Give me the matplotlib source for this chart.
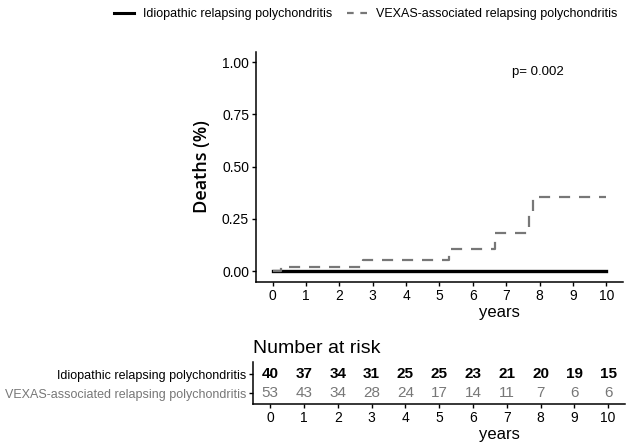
import matplotlib
matplotlib.use('Agg')
import matplotlib.pyplot as plt
from matplotlib.lines import Line2D

plt.rcParams['font.family'] = ['Liberation Sans', 'DejaVu Sans']

# 資料
GROUPS = ["Idiopathic relapsing polychondritis", "VEXAS-associated relapsing polychondritis"]
COLORS = ['black', '#777777']
YEARS = list(range(0, 11))

idio_time = [0, 10]
idio_deaths = [0, 0]
vexas_time = [0, 0.26, 2.72, 5.28, 6.65, 7.68, 7.80, 10]
vexas_deaths = [0, 0.019, 0.054, 0.107, 0.185, 0.27, 0.355, 0.355]

risk_idio = [40, 37, 34, 31, 25, 25, 23, 21, 20, 19, 15]
risk_vexas = [53, 43, 34, 28, 24, 17, 14, 11, 7, 6, 6]

y_ticks = [0.0, 0.25, 0.5, 0.75, 1.0]
y_ticklabels = ["0.00", "0.25", "0.50", "0.75", "1.00"]


def style_axis(ax):
    for s in ['top', 'right']:
        ax.spines[s].set_visible(False)
    for s in ['left', 'bottom']:
        ax.spines[s].set_linewidth(1.1)
        ax.spines[s].set_color('black')
    ax.tick_params(direction='out', length=3, width=1.0, color='black',
                   labelsize=10, pad=2)


fig = plt.figure(figsize=(6.31, 4.44), dpi=100)

# === 主圖 ===
ax = fig.add_axes([0.4057, 0.3655, 0.5816, 0.518])
ax.step(idio_time, idio_deaths, where='post', color=COLORS[0], linewidth=2.4, zorder=2)
ax.step(vexas_time, vexas_deaths, where='post', color=COLORS[1], linewidth=1.6,
        linestyle=(0, (5, 4)), zorder=3)
ax.set_xlim(-0.5, 10.5)
ax.set_ylim(-0.05, 1.05)
ax.set_xticks(YEARS)
ax.set_yticks(y_ticks)
ax.set_yticklabels(y_ticklabels)
style_axis(ax)
ax.set_ylabel("Deaths (%)", fontsize=13, family=['Open Sans', 'DejaVu Sans'],
              fontweight='semibold', labelpad=8)
fig.text(0.792, 0.297, "years", fontsize=12, ha='center', va='center')
ax.text(7.94, 0.955, "p= 0.002", fontsize=9.5, ha='center', va='center')

# 圖例
handles = [Line2D([], [], color=COLORS[0], linewidth=2.2),
           Line2D([], [], color=COLORS[1], linewidth=1.6, linestyle=(0, (3, 3)))]
fig.legend(handles, GROUPS, loc='center', bbox_to_anchor=(0.58, 0.968), ncol=2,
           frameon=False, fontsize=9, handlelength=1.6, handletextpad=0.7,
           columnspacing=1.2)

# === Number at risk 表 ===
ax2 = fig.add_axes([0.4014, 0.0901, 0.5891, 0.0953])
for i, yr in enumerate(YEARS):
    ax2.text(yr, 1, str(risk_idio[i]), ha='center', va='center', fontsize=11,
             fontweight='bold', color=COLORS[0])
    ax2.text(yr, 0, str(risk_vexas[i]), ha='center', va='center', fontsize=11,
             color=COLORS[1])
ax2.set_xlim(-0.5, 10.5)
ax2.set_ylim(-0.56, 1.66)
ax2.set_xticks(YEARS)
ax2.set_yticks([1, 0])
ax2.set_yticklabels(GROUPS)
style_axis(ax2)
ax2.tick_params(axis='y', labelsize=9)
for lbl, c in zip(ax2.get_yticklabels(), COLORS):
    lbl.set_color(c)
fig.text(0.792, 0.021, "years", fontsize=12, ha='center', va='center')
ax2.set_title("Number at risk", fontsize=14, loc='left', pad=6)

fig.savefig('out.png', dpi=100)
plt.close(fig)
